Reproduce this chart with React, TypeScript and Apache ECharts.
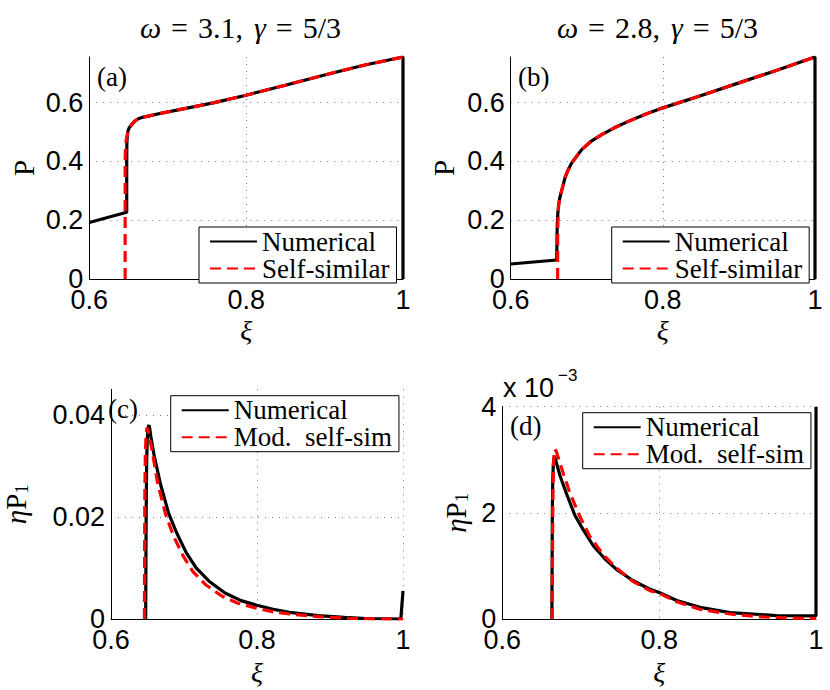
import React, { useEffect, useRef } from "react";
import * as echarts from "echarts";

// ---------- data ----------
// Panel (a): omega = 3.1
const A_NUM_X = [0.6, 0.6477, 0.6477, 0.6479, 0.6485, 0.6495, 0.651, 0.654, 0.658, 0.6625, 0.668, 0.675, 0.69, 0.715, 0.758, 0.8, 0.85, 0.9, 0.95, 1.0, 1.0];
const A_NUM_Y = [0.192, 0.227, 0.4, 0.46, 0.49, 0.505, 0.515, 0.525, 0.537, 0.545, 0.55, 0.554, 0.563, 0.576, 0.599, 0.625, 0.659, 0.694, 0.727, 0.755, 0];
const A_SS_X = [0.6457, 0.6457, 0.6462, 0.6472, 0.6485, 0.6495, 0.651, 0.654, 0.658, 0.6625, 0.668, 0.675, 0.69, 0.715, 0.758, 0.8, 0.85, 0.9, 0.95, 1.0];
const A_SS_Y = [0, 0.4, 0.45, 0.475, 0.49, 0.505, 0.515, 0.525, 0.537, 0.545, 0.55, 0.554, 0.563, 0.576, 0.599, 0.625, 0.659, 0.694, 0.727, 0.755];

// Panel (b): omega = 2.8
const B_NUM_X = [0.6, 0.6605, 0.6607, 0.6609, 0.6613, 0.662, 0.663, 0.6645, 0.6661, 0.669, 0.6714, 0.675, 0.68, 0.686, 0.6933, 0.705, 0.7196, 0.737, 0.7546, 0.777, 0.8, 0.8466, 0.9, 0.95, 1.0, 1.0];
const B_NUM_Y = [0.051, 0.0647, 0.1, 0.15, 0.19, 0.225, 0.252, 0.275, 0.292, 0.32, 0.345, 0.368, 0.394, 0.415, 0.44, 0.467, 0.491, 0.515, 0.536, 0.56, 0.582, 0.621, 0.667, 0.71, 0.755, 0];
const B_SS_X = [0.6617, 0.6617, 0.6619, 0.6625, 0.663, 0.6645, 0.6661, 0.669, 0.6714, 0.675, 0.68, 0.686, 0.6933, 0.705, 0.7196, 0.737, 0.7546, 0.777, 0.8, 0.8466, 0.9, 0.95, 1.0];
const B_SS_Y = [0, 0.12, 0.18, 0.22, 0.252, 0.275, 0.292, 0.32, 0.345, 0.368, 0.394, 0.415, 0.44, 0.467, 0.491, 0.515, 0.536, 0.56, 0.582, 0.621, 0.667, 0.71, 0.755];

// Panel (c): eta*P1, omega = 3.1
const C_NUM_X = [0.6475, 0.6478, 0.6482, 0.6488, 0.6496, 0.6506, 0.6519, 0.653, 0.6545, 0.6594, 0.6682, 0.6792, 0.6902, 0.7034, 0.7166, 0.7343, 0.7562, 0.7782, 0.7998, 0.8222, 0.8442, 0.8838, 0.92, 0.95, 0.997, 1.0];
const C_NUM_Y = [0, 0.01, 0.021, 0.03, 0.035, 0.0373, 0.038, 0.0374, 0.0358, 0.0318, 0.0262, 0.0206, 0.0168, 0.0129, 0.01, 0.0074, 0.0051, 0.0036, 0.0027, 0.0019, 0.0013, 0.00066, 0.0003, 0.0001, 0, 0.0055];
const C_SS_X = [0.6458, 0.646, 0.6464, 0.647, 0.648, 0.6493, 0.6505, 0.653, 0.6575, 0.6638, 0.6748, 0.6858, 0.699, 0.7122, 0.7298, 0.7518, 0.7739, 0.7998, 0.8222, 0.8442, 0.8838, 0.93, 0.97, 1.0];
const C_SS_Y = [0, 0.012, 0.025, 0.032, 0.036, 0.0375, 0.0371, 0.0355, 0.032, 0.0267, 0.0205, 0.0162, 0.0123, 0.0093, 0.0067, 0.0045, 0.0031, 0.0021, 0.0014, 0.00098, 0.00046, 0.0001, 0.00002, 0];

// Panel (d): eta*P1 in units of 1e-3, omega = 2.8
const D_NUM_X = [0.6632, 0.6635, 0.6638, 0.6643, 0.665, 0.6658, 0.6668, 0.6736, 0.6821, 0.6927, 0.7033, 0.716, 0.731, 0.7459, 0.767, 0.7883, 0.8, 0.8224, 0.8521, 0.8904, 0.95, 1.0, 1.0];
const D_NUM_Y = [0, 1.0, 2.0, 2.6, 2.9, 3.02, 3.06, 2.7, 2.35, 1.95, 1.68, 1.38, 1.13, 0.93, 0.72, 0.56, 0.5, 0.35, 0.22, 0.12, 0.065, 0.06, 4];
const D_SS_X = [0.6637, 0.664, 0.6645, 0.6652, 0.666, 0.6672, 0.669, 0.6778, 0.6863, 0.699, 0.7118, 0.7288, 0.7459, 0.767, 0.7883, 0.7998, 0.8224, 0.8521, 0.8904, 0.93, 0.97, 1.0];
const D_SS_Y = [0, 1.2, 2.3, 2.9, 3.12, 3.2, 3.15, 2.74, 2.37, 1.93, 1.55, 1.21, 0.955, 0.703, 0.533, 0.484, 0.326, 0.182, 0.094, 0.04, 0.015, 0.01];

const X_TICK_MIN = 0.6;
const X_TICK_MAX = 1;
const X_TICK_STEP = 0.2;
const Y_MAX = [0.755, 0.755, 0.045, 4];
const Y_STEP = [0.2, 0.2, 0.02, 2];

const NAME_NUM = "Numerical";
const NAME_SS = "Self-similar";
const NAME_MSS = "Mod.\u00a0 self-sim";
const TITLES = [
  "{i|ω}{q|=}{r|3.1,}{i|γ}{q|=}{r|5/3}",
  "{i|ω}{q|=}{r|2.8,}{i|γ}{q|=}{r|5/3}",
];
const PANEL_LABELS = ["(a)", "(b)", "(c)", "(d)"];
const EXP_BASE = "x 10";
const EXP_POWER = "\u22123";

const SERIF = "Liberation Serif";
const SANS = "Liberation Sans";

const GRIDS = [
  { left: 89.3, top: 57, width: 313.7, height: 222 },
  { left: 510.7, top: 57, width: 304.3, height: 222 },
  { left: 100, top: 389.3, width: 303, height: 229.7 },
  { left: 502.3, top: 406.7, width: 313.7, height: 212.3 },
];

const pairs = (xs: number[], ys: number[]) => xs.map((x, i) => [x, ys[i]]);

function buildOption() {
  const xAxes = GRIDS.map((_, i) => ({
    type: "value",
    gridIndex: i,
    min: X_TICK_MIN,
    max: X_TICK_MAX,
    interval: X_TICK_STEP,
    axisLine: { show: true, onZero: false, lineStyle: { color: "#000", width: 1 } },
    axisTick: { show: false },
    axisLabel: { color: "#000", fontFamily: SANS, fontSize: 27, margin: 7 },
    splitLine: { show: true, lineStyle: { color: "#777", width: 1, type: [1, 6] } },
    name: "ξ",
    nameLocation: "middle",
    nameGap: i < 2 ? 37 : 39,
    nameTextStyle: { color: "#000", fontFamily: SERIF, fontStyle: "italic", fontSize: 28 },
  }));

  const yNameStyle = {
    color: "#000",
    fontFamily: SERIF,
    fontSize: 29,
    rich: {
      e: { fontFamily: SERIF, fontStyle: "italic", fontSize: 29, color: "#000" },
      p: { fontFamily: SERIF, fontSize: 29, color: "#000" },
      s: { fontFamily: SERIF, fontSize: 19, color: "#000", padding: [12, 0, 0, 0] },
    },
  };

  const yAxes = GRIDS.map((_, i) => ({
    type: "value",
    gridIndex: i,
    min: 0,
    max: Y_MAX[i],
    interval: Y_STEP[i],
    axisLine: { show: true, onZero: false, lineStyle: { color: "#000", width: 1 } },
    axisTick: { show: false },
    axisLabel: { color: "#000", fontFamily: SANS, fontSize: 27, margin: 6, showMaxLabel: i === 3 },
    splitLine: { show: true, showMaxLine: i === 3, lineStyle: { color: "#777", width: 1, type: [1, 6] } },
    name: i < 2 ? "P" : "{e|η}{p|P}{s|1}",
    nameLocation: "middle",
    nameRotate: 90,
    nameGap: [51, 52, 80, 31][i],
    nameTextStyle: yNameStyle,
  }));

  const line = (name: string, xs: number[], ys: number[], idx: number, red: boolean) => ({
    type: "line",
    name,
    xAxisIndex: idx,
    yAxisIndex: idx,
    data: pairs(xs, ys),
    symbol: "none",
    showSymbol: false,
    smooth: false,
    silent: true,
    z: red ? 3 : 2,
    lineStyle: { color: red ? "#ff0000" : "#000", width: 3.2, type: red ? [11, 6] : "solid" },
    itemStyle: { color: red ? "#ff0000" : "#000" },
  });

  const series = [
    line(NAME_NUM, A_NUM_X, A_NUM_Y, 0, false),
    line(NAME_SS, A_SS_X, A_SS_Y, 0, true),
    line(NAME_NUM, B_NUM_X, B_NUM_Y, 1, false),
    line(NAME_SS, B_SS_X, B_SS_Y, 1, true),
    line(NAME_NUM, C_NUM_X, C_NUM_Y, 2, false),
    line(NAME_MSS, C_SS_X, C_SS_Y, 2, true),
    line(NAME_NUM, D_NUM_X, D_NUM_Y, 3, false),
    line(NAME_MSS, D_SS_X, D_SS_Y, 3, true),
  ];

  const legendBase = {
    orient: "vertical",
    itemWidth: 47,
    itemHeight: 14,
    itemGap: 0,
    padding: [1, 7, 1, 10],
    borderColor: "#000",
    borderWidth: 1,
    backgroundColor: "#fff",
    selectedMode: false,
    itemStyle: { color: "rgba(0,0,0,0)", borderWidth: 0, borderColor: "rgba(0,0,0,0)" },
    textStyle: { color: "#000", fontFamily: SERIF, fontSize: 27, lineHeight: 23 },
  };
  const legends = [
    { ...legendBase, left: 199, top: 227, data: [NAME_NUM, NAME_SS] },
    { ...legendBase, left: 611.7, top: 227, data: [NAME_NUM, NAME_SS] },
    { ...legendBase, left: 170.7, top: 395.7, data: [NAME_NUM, NAME_MSS] },
    { ...legendBase, left: 582.7, top: 412.7, data: [NAME_NUM, NAME_MSS] },
  ];

  const tFont = { fontFamily: SERIF, fontSize: 30, fontWeight: "normal", color: "#000" };
  const titleBase = {
    top: 12,
    padding: 0,
    textAlign: "center",
    textStyle: {
      ...tFont,
      rich: {
        i: { ...tFont, fontStyle: "italic" },
        q: { ...tFont, padding: [0, 10, 0, 10] },
        r: { ...tFont, padding: [0, 11, 0, 0] },
      },
    },
  };
  const titles = [
    { ...titleBase, left: 246, text: TITLES[0] },
    { ...titleBase, left: 663, text: TITLES[1] },
  ];

  const labelPos = [
    [97, 77],
    [518, 77],
    [108, 409],
    [510, 426],
  ];

  const graphic = [
    ...PANEL_LABELS.map((t, i) => ({
      type: "text",
      x: labelPos[i][0],
      y: labelPos[i][1],
      z: 10,
      style: { text: t, fontFamily: SERIF, fontSize: 27, fill: "#000", align: "left", verticalAlign: "middle" },
    })),
    { type: "text", x: 503, y: 388, style: { text: EXP_BASE, fontFamily: SANS, fontSize: 27, fill: "#000", align: "left", verticalAlign: "middle" } },
    { type: "text", x: 558, y: 375, style: { text: EXP_POWER, fontFamily: SANS, fontSize: 17, fill: "#000", align: "left", verticalAlign: "middle" } },
  ];

  return {
    animation: false,
    backgroundColor: "#fff",
    title: titles,
    grid: GRIDS.map((g) => ({ ...g, containLabel: false })),
    xAxis: xAxes,
    yAxis: yAxes,
    legend: legends,
    series,
    graphic,
  };
}

export default function App() {
  const ref = useRef<HTMLDivElement | null>(null);
  useEffect(() => {
    if (!ref.current) return;
    const chart = echarts.init(ref.current, undefined, { renderer: "svg" });
    chart.setOption(buildOption() as any);
    return () => chart.dispose();
  }, []);
  return (
    <div
      ref={ref}
      style={{ position: "absolute", left: 0, top: 0, width: 830, height: 690, background: "#fff" }}
    />
  );
}
